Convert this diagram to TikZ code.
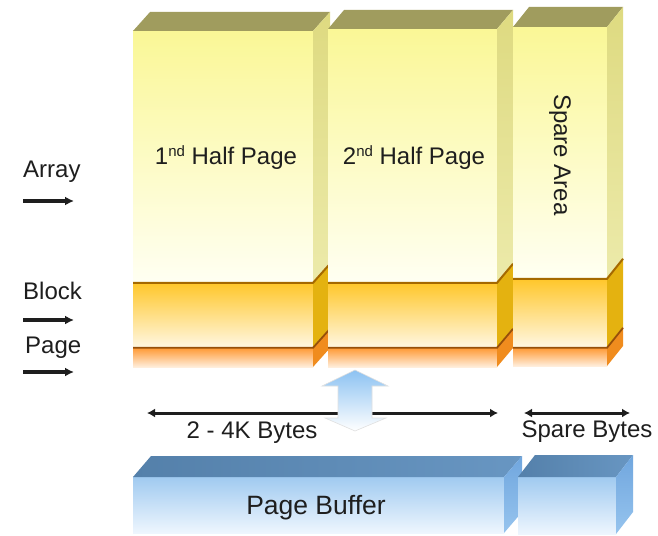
\documentclass[tikz,border=0pt]{standalone}
\usepackage{fontspec}
\setmainfont{Liberation Sans}
\usetikzlibrary{arrows.meta}
\definecolor{txt}{RGB}{30,30,30}
\definecolor{Yf1}{RGB}{250,247,150}
\definecolor{Yf2}{RGB}{255,255,242}
\definecolor{Yt}{RGB}{160,156,94}
\definecolor{Ys1}{RGB}{222,218,128}
\definecolor{Ys2}{RGB}{236,234,170}
\definecolor{Bf1}{RGB}{255,198,40}
\definecolor{Bf2}{RGB}{255,247,225}
\definecolor{Bs}{RGB}{228,178,16}
\definecolor{Bl}{RGB}{165,105,0}
\definecolor{Pf1}{RGB}{255,150,45}
\definecolor{Pf2}{RGB}{255,238,220}
\definecolor{Ps}{RGB}{240,140,30}
\definecolor{Pl}{RGB}{150,80,10}
\definecolor{Uf1}{RGB}{160,202,240}
\definecolor{Uf2}{RGB}{238,246,254}
\definecolor{Ut1}{RGB}{84,128,170}
\definecolor{Ut2}{RGB}{104,150,194}
\definecolor{Us1}{RGB}{112,166,222}
\definecolor{Us2}{RGB}{150,196,238}
\definecolor{Ar1}{RGB}{140,194,242}
\newcommand\mycuboid[9]{%
  \path[#7] (#1,#2) rectangle (#3,#4);
  \path[#8] (#1,#2) -- ++(#5,#6) -- (#3+#5,#2+#6) -- (#3,#2) -- cycle;
  \path[#9] (#3,#2) -- ++(#5,#6) -- (#3+#5,#4+#6) -- (#3,#4) -- cycle;
}
\newcommand\mycolumn[8]{%
  % #1 x1, #2 x2, #3 ytop, #4 yblock, #5 ypage, #6 ybottom, #7 dx, #8 dy
  \mycuboid{#1}{#5}{#2}{#6}{#7}{#8}{pfront}{none}{pside}
  \mycuboid{#1}{#4}{#2}{#5}{#7}{#8}{bfront}{none}{bside}
  \mycuboid{#1}{#3}{#2}{#4}{#7}{#8}{yfront}{ytop}{yside}
  \draw[pline] (#1,#5+0.8) -- (#2,#5+0.8) -- ++(#7,#8);
  \draw[bline] (#1,#4+0.8) -- (#2,#4+0.8) -- ++(#7,#8);
}
\newcommand\mysup[1]{\raisebox{0.6ex}{\fontsize{15}{15}\selectfont #1}}
\begin{document}
\begin{tikzpicture}[x=1pt,y=-1pt,
  none/.style={},
  yfront/.style={top color=Yf1,bottom color=Yf2},
  ytop/.style={fill=Yt},
  yside/.style={top color=Ys1,bottom color=Ys2},
  bfront/.style={top color=Bf1,bottom color=Bf2},
  bside/.style={fill=Bs},
  bline/.style={draw=Bl,line width=2pt},
  pfront/.style={top color=Pf1,bottom color=Pf2},
  pside/.style={fill=Ps},
  pline/.style={draw=Pl,line width=1.8pt},
  ufront/.style={top color=Uf1,bottom color=Uf2},
  utop/.style={left color=Ut1,right color=Ut2},
  uside/.style={top color=Us1,bottom color=Us2},
  lbl/.style={font=\fontsize{24}{28}\selectfont,text=txt,inner sep=0pt},
  larrow/.style={line width=3.4pt,draw=txt,-{Latex[length=9pt,width=9pt]}},
  harrow/.style={line width=3pt,draw=txt,{Latex[length=8pt,width=9pt]}-{Latex[length=8pt,width=9pt]}}
]
\useasboundingbox (0,0) rectangle (658,535);
\fill[white] (0,0) rectangle (658,535);

% memory columns
\mycolumn{133}{313}{31}{282}{347}{367}{17}{-19}
\mycolumn{328}{497}{29}{282}{347}{367}{16}{-19}
\mycolumn{513}{607}{27}{278}{347}{366}{16}{-20}

% column labels
\node[lbl,anchor=base] (half1) at (226,164) {1\mysup{nd} Half Page};
\node[lbl,anchor=base] (half2) at (414,164) {2\mysup{nd} Half Page};
\node[lbl,rotate=-90] (sparea) at (560,155) {Spare Area};

% left labels and arrows
\node[lbl,anchor=base west] (tarray) at (23,177) {Array};
\node[lbl,anchor=base west] (tblock) at (23,299) {Block};
\node[lbl,anchor=base west] (tpage) at (25,353) {Page};
\coordinate (aa1) at (23,201); \coordinate (aa2) at (74,201);
\coordinate (ab1) at (23,320); \coordinate (ab2) at (74,320);
\coordinate (ap1) at (23,372); \coordinate (ap2) at (74,372);
\draw[larrow] (aa1) -- (aa2);
\draw[larrow] (ab1) -- (ab2);
\draw[larrow] (ap1) -- (ap2);

% byte ranges
\coordinate (m1) at (147,413); \coordinate (m2) at (498,413);
\coordinate (s1) at (524,413); \coordinate (s2) at (630,413);
\draw[harrow] (m1) -- (m2);
\draw[harrow] (s1) -- (s2);
\node[lbl,anchor=base] (tbytes) at (252,438) {2 - 4K Bytes};
\node[lbl,anchor=base] (tspare) at (587,437) {Spare Bytes};

% transfer arrow
\path[top color=Ar1,bottom color=white,draw=black!12,line width=0.6pt]
  (355,370) -- (388,386) -- (372,386) -- (372,418) -- (386,418) -- (355,431)
  -- (325,418) -- (338,418) -- (338,386) -- (322,386) -- cycle;

% page buffer
\mycuboid{133}{477}{504}{533}{18}{-21}{ufront}{utop}{uside}
\mycuboid{518}{477}{616}{534}{17}{-22}{ufront}{utop}{uside}
\node[lbl,anchor=base,font=\fontsize{26.5}{30}\selectfont] (tbuf) at (316,514) {Page Buffer};
\end{tikzpicture}
\end{document}
